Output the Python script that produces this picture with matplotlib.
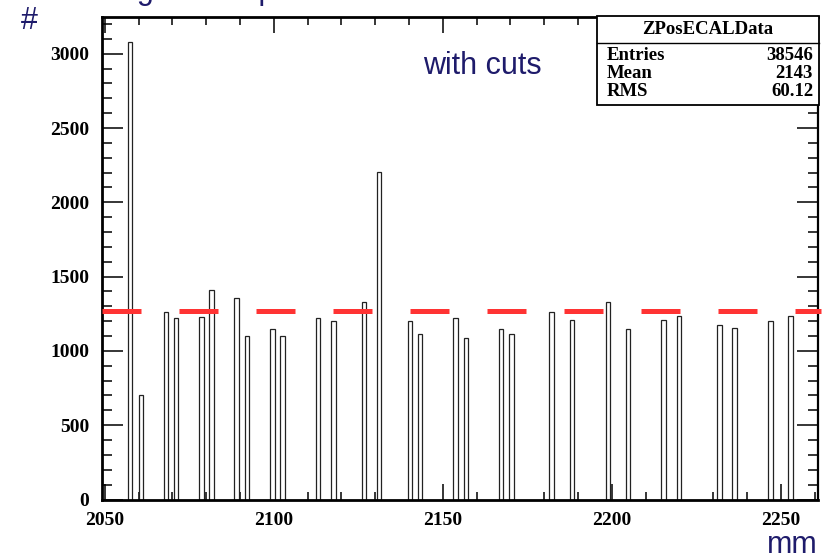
import numpy as np
import matplotlib
matplotlib.use('Agg')
import matplotlib.pyplot as plt
from matplotlib.patches import Rectangle
from matplotlib.lines import Line2D

########################################
# Histogram contents
########################################

z_pos = [2057.5, 2060.6, 2068.1, 2071.1, 2078.6, 2081.6, 2089.0, 2092.1,
         2099.6, 2102.6, 2113.1, 2117.6, 2126.7, 2131.1, 2140.2, 2143.2,
         2153.7, 2156.8, 2167.2, 2170.3, 2182.2, 2188.3, 2198.8, 2204.8,
         2215.3, 2219.8, 2231.8, 2236.3, 2246.9, 2252.9]
counts = [3081, 703, 1264, 1219, 1228, 1410, 1356, 1102,
          1147, 1102, 1219, 1201, 1329, 2206, 1201, 1112,
          1219, 1085, 1147, 1112, 1264, 1210, 1329, 1147,
          1210, 1237, 1174, 1156, 1201, 1237]
ref_level = 1266

hist_name = 'ZPosECALData'
stat_names = ['Entries', 'Mean', 'RMS']
stat_values = ['38546', '2143', '60.12']

X_RANGE = (2049, 2261)
Y_RANGE = (0, 3245)
W, H = 831, 560
NAVY = '#1e1b6b'
SANS = 'Liberation Sans'
SERIF = 'Liberation Serif'


def px(x, y):
    # pixel position -> figure fraction
    return x / W, 1 - y / H


fig = plt.figure(figsize=(W / 100, H / 100), dpi=100)
l, b = px(101.5, 499.5)
r, t = px(818, 17.3)
ax = fig.add_axes([l, b, r - l, t - b])

ax.bar(z_pos, counts, width=1.3, color='white', edgecolor='#222222',
       linewidth=0.9, align='center', zorder=2)

ax.plot([X_RANGE[0], 2261.8], [ref_level, ref_level], color='#ff3333',
        lw=3.6, dashes=(7.8, 7.6), solid_capstyle='butt',
        dash_capstyle='butt', clip_on=False, zorder=3)

ax.set_xlim(*X_RANGE)
ax.set_ylim(*Y_RANGE)
ax.set_xticks(np.arange(2050, 2251, 50))
ax.set_xticks(np.arange(2050, 2261, 10), minor=True)
ax.set_yticks(np.arange(0, 3001, 500))
ax.set_yticks(np.arange(0, 3201, 100), minor=True)

ax.tick_params(axis='x', which='major', direction='in', length=11.5, width=1.1,
               top=True, pad=9)
ax.tick_params(axis='x', which='minor', direction='in', length=5.8, width=1.1,
               top=True)
ax.tick_params(axis='y', which='major', direction='in', length=15, width=1.1,
               right=True, pad=9)
ax.tick_params(axis='y', which='minor', direction='in', length=7.5, width=1.1,
               right=True)
for lab in ax.get_xticklabels() + ax.get_yticklabels():
    lab.set_fontfamily(SERIF)
    lab.set_fontweight('bold')
    lab.set_fontsize(14)

for side, sp in ax.spines.items():
    sp.set_linewidth(2.0 if side in ('left', 'bottom', 'top') else 1.6)

########################################
# Stats box
########################################

bx0, by0 = px(597, 105)
bx1, by1 = px(819, 16)
fig.patches.append(Rectangle((bx0, by0), bx1 - bx0, by1 - by0,
                             transform=fig.transFigure, facecolor='white',
                             edgecolor='black', linewidth=1.3, zorder=5))
lx, ly = px(597, 43)
fig.lines.append(Line2D([bx0, bx1], [ly, ly], transform=fig.transFigure,
                        color='black', linewidth=1.0, zorder=6))
fig.text(*px(708, 30), hist_name, ha='center', va='center', family=SERIF,
         weight='bold', fontsize=13.5, zorder=7)
for i, (name, val) in enumerate(zip(stat_names, stat_values)):
    yy = 55 + i * 18
    fig.text(*px(607, yy), name, ha='left', va='center', family=SERIF,
             weight='bold', fontsize=13.5, zorder=7)
    fig.text(*px(813, yy), val, ha='right', va='center', family=SERIF,
             weight='bold', fontsize=13.5, zorder=7)

########################################
# Labels
########################################

fig.text(*px(482, 66), 'with cuts', ha='center', va='center', family=SANS,
         fontsize=22, color=NAVY)
fig.text(*px(29, 21), '#', ha='center', va='center', family=SANS,
         fontsize=22, color=NAVY)
fig.text(*px(792, 545), 'mm', ha='center', va='center', family=SANS,
         fontsize=22, color=NAVY)
fig.text(*px(86, -1), 'Longitudinal position', ha='left', va='baseline',
         family=SANS, fontsize=22, color=NAVY)

fig.savefig('out.png', dpi=100)
